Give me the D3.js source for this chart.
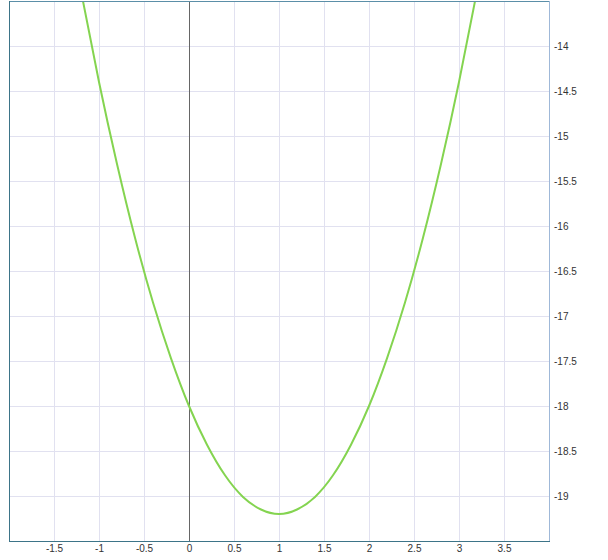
<!doctype html>
<html>
    <head>
        <title>Parabola</title>
        <script src="https://d3js.org/d3.v7.min.js"></script>
        <style type="text/css">
            body { margin: 0; background: #fff; }
            .tick text { font-family: Arial, "Liberation Sans", sans-serif; font-size: 10px; fill: #333; }
            .grid line { stroke: #e1e1f0; stroke-width: 1; }
        </style>
    </head>
    <body>
        <script>
        // points
        var xs = [-1.2, -1.0, -0.8, -0.6, -0.4, -0.2, 0, 0.2, 0.4, 0.6, 0.8, 1.0,
                  1.2, 1.4, 1.6, 1.8, 2.0, 2.2, 2.4, 2.6, 2.8, 3.0, 3.2];
        var ys = [-13.39, -14.4, -15.31, -16.13, -16.85, -17.47, -18.0, -18.43, -18.77, -19.01, -19.15, -19.2,
                  -19.15, -19.01, -18.77, -18.43, -18.0, -17.47, -16.85, -16.13, -15.31, -14.4, -13.39];
        var xTicks = [-1.5, -1, -0.5, 0, 0.5, 1, 1.5, 2, 2.5, 3, 3.5];
        var yTicks = [-14, -14.5, -15, -15.5, -16, -16.5, -17, -17.5, -18, -18.5, -19];

        var ml = 9, mt = 1, w = 540, h = 540;

        var svg = d3.select("body").append("svg").attr("width", 608).attr("height", 560);

        var x = d3.scaleLinear().domain([-2, 4]).range([ml, ml + w]);
        var y = d3.scaleLinear().domain([-19.5, -13.5]).range([mt + h, mt]);

        svg.append("defs").append("clipPath").attr("id", "plot")
            .append("rect").attr("x", ml).attr("y", mt).attr("width", w).attr("height", h);

        var grid = svg.append("g").attr("class", "grid");
        grid.selectAll("line.v").data(xTicks).enter().append("line")
            .attr("class", "v")
            .attr("x1", function(d) { return x(d) + 0.5; })
            .attr("x2", function(d) { return x(d) + 0.5; })
            .attr("y1", mt).attr("y2", mt + h);
        grid.selectAll("line.h").data(yTicks).enter().append("line")
            .attr("class", "h")
            .attr("y1", function(d) { return y(d) + 0.5; })
            .attr("y2", function(d) { return y(d) + 0.5; })
            .attr("x1", ml).attr("x2", ml + w);

        // vertical axis line at x = 0
        svg.append("line")
            .attr("x1", x(0) + 0.5).attr("x2", x(0) + 0.5)
            .attr("y1", mt).attr("y2", mt + h)
            .attr("stroke", "#666").attr("stroke-width", 1);

        var line = d3.line()
            .x(function(d, i) { return x(xs[i]); })
            .y(function(d, i) { return y(ys[i]); })
            .curve(d3.curveNatural);

        svg.append("path")
            .attr("d", line(xs))
            .attr("clip-path", "url(#plot)")
            .attr("fill", "none")
            .attr("stroke", "#84d450")
            .attr("stroke-width", 2);

        // frame: darker left/bottom, lighter top/right
        var frame = svg.append("g").attr("stroke-width", 1);
        frame.append("line").attr("x1", ml + 0.5).attr("x2", ml + w + 0.5)
            .attr("y1", mt + 0.5).attr("y2", mt + 0.5).attr("stroke", "#5b8fa8");
        frame.append("line").attr("x1", ml + w + 0.5).attr("x2", ml + w + 0.5)
            .attr("y1", mt).attr("y2", mt + h + 1).attr("stroke", "#9fb8d8");
        frame.append("line").attr("x1", ml + 0.5).attr("x2", ml + 0.5)
            .attr("y1", mt).attr("y2", mt + h + 1).attr("stroke", "#3d7488");
        frame.append("line").attr("x1", ml).attr("x2", ml + w + 1)
            .attr("y1", mt + h + 0.5).attr("y2", mt + h + 0.5).attr("stroke", "#3d7488");

        var xAxis = d3.axisBottom(x).tickValues(xTicks).tickSize(0).tickPadding(3)
            .tickFormat(function(d) { return String(d); });
        svg.append("g").attr("transform", "translate(0," + (mt + h + 1) + ")").call(xAxis)
            .call(function(g) { g.select(".domain").remove(); });

        var yAxis = d3.axisRight(y).tickValues(yTicks).tickSize(0).tickPadding(4)
            .tickFormat(function(d) { return String(d); });
        svg.append("g").attr("transform", "translate(" + (ml + w + 1) + ",0)").call(yAxis)
            .call(function(g) { g.select(".domain").remove(); });
        </script>
    </body>
</html>
